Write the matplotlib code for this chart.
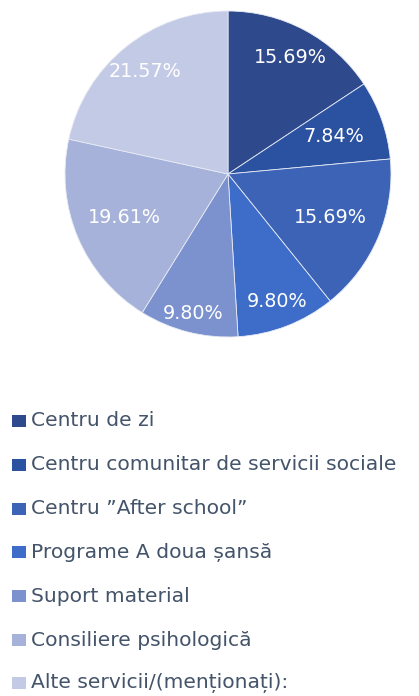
import matplotlib
matplotlib.use("Agg")
import matplotlib.pyplot as plt
from matplotlib.patches import Rectangle
import numpy as np

categories = ["Centru de zi", "Centru comunitar de servicii sociale", "Centru \u201dAfter school\u201d",
              "Programe A doua \u0219ans\u0103", "Suport material", "Consiliere psihologic\u0103",
              "Alte servicii/(men\u021biona\u021bi):"]
values = [15.69, 7.84, 15.69, 9.80, 9.80, 19.61, 21.57]
labels = ["15.69%", "7.84%", "15.69%", "9.80%", "9.80%", "19.61%", "21.57%"]

colors = ["#2E4A8C", "#2B52A0", "#3C63B6", "#3D6DC8", "#7C92CE", "#A6B2DA", "#C3CAE5"]
label_r = [0.81, 0.69, 0.68, 0.84, 0.88, 0.69, 0.81]

W, H = 419, 696
fig = plt.figure(figsize=(W/100, H/100), dpi=100)
cx, cy, R = 228, 174, 163
ax = fig.add_axes([(cx-R)/W, (H-cy-R)/H, 2*R/W, 2*R/H])
wedges, _ = ax.pie(values, colors=colors, startangle=90, counterclock=False,
                   wedgeprops=dict(edgecolor="#E6EAF4", linewidth=0.6))
ax.set_aspect("equal")
ax.set_xlim(-1, 1); ax.set_ylim(-1, 1)
for w, lab, rf in zip(wedges, labels, label_r):
    ang = np.deg2rad((w.theta1 + w.theta2) / 2)
    ax.text(rf*np.cos(ang), rf*np.sin(ang), lab, ha="center", va="center",
            color="white", fontsize=13.8)

ys = [421, 465, 509, 552, 596, 640, 683]
for cat, col, y in zip(categories, colors, ys):
    fig.patches.append(Rectangle((12/W, (H-y-6)/H), 14/W, 12/H, transform=fig.transFigure,
                                 facecolor=col, edgecolor="none"))
    fig.text(31/W, (H-y)/H, cat, ha="left", va="center", color="#44546A", fontsize=14.6)

fig.savefig("out.png", dpi=100)
